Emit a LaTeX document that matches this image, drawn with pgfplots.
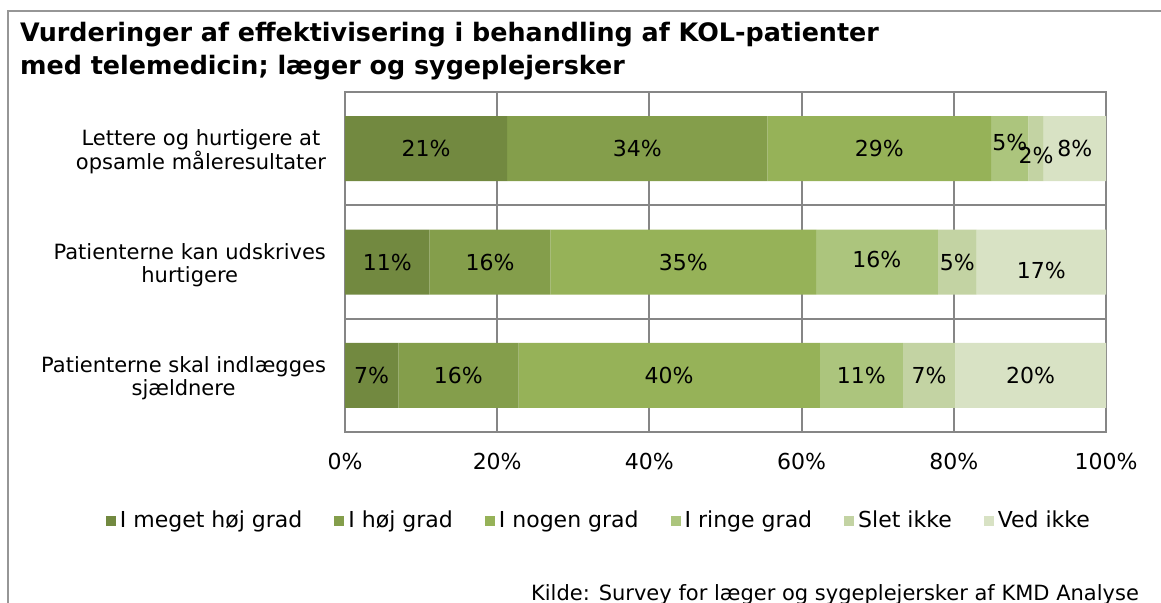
\documentclass[border=0pt]{standalone}
\usepackage{fontspec}
\setmainfont{DejaVu Sans}
\usepackage{pgfplots}
\usepackage{pgfplotstable}
\pgfplotsset{compat=1.18}

\definecolor{c1}{RGB}{114,137,64}
\definecolor{c2}{RGB}{132,158,75}
\definecolor{c3}{RGB}{150,178,88}
\definecolor{c4}{RGB}{172,197,125}
\definecolor{c5}{RGB}{195,211,163}
\definecolor{c6}{RGB}{216,226,196}
\definecolor{gridgray}{RGB}{134,134,134}
\definecolor{framegray}{RGB}{150,150,150}

% shares in percent, cat 0 = bottom bar
\pgfplotstableread{
cat a    b    c    d    e   f
0   7.0  15.8 39.6 10.9 6.9 19.8
1   11.1 15.9 34.9 16.0 5.1 17.0
2   21.3 34.2 29.4 4.9  2.0 8.2
}\data

\newcommand{\lbl}{\fontsize{11}{13}\selectfont}
\newcommand{\cat}{\fontsize{10.5}{11.6}\selectfont}

\begin{document}
\begin{tikzpicture}
\draw[framegray, line width=1pt] (4pt,-310pt) -- (4pt,-5.25pt) -- (590pt,-5.25pt);
\node[anchor=base west, font=\fontsize{12.7}{14}\selectfont\bfseries] at (6.5pt,-20.5pt)
  {Vurderinger af effektivisering i behandling af KOL-patienter};
\node[anchor=base west, font=\fontsize{12.7}{14}\selectfont\bfseries] at (6.5pt,-37pt)
  {med telemedicin; læger og sygeplejersker};

\begin{axis}[
  % colour, then label nudge (pt) for bar 0, 1, 2
  seg/.style n args={4}{fill=#1, draw=none,
    every node near coord/.append style={yshift={1pt*((\ci==0)*(#2)+(\ci==1)*(#3)+(\ci==2)*(#4))}}},
  at={(172.5pt,-216pt)}, anchor=south west,
  width=380.5pt, height=170pt, scale only axis,
  xbar stacked, bar width=32.5pt,
  xmin=0, xmax=100, ymin=-0.5, ymax=2.5,
  xtick={0,20,...,100},
  xticklabel={\pgfmathprintnumber{\tick}\%},
  /pgf/number format/assume math mode=true,
  ytick={0,1,2},
  yticklabels={{Patienterne skal indlægges\\sjældnere},
               {Patienterne kan udskrives\\hurtigere},
               {Lettere og hurtigere at\\opsamle måleresultater}},
  minor ytick={0.5,1.5},
  xmajorgrids, yminorgrids,
  major tick length=0pt, minor tick length=0pt,
  axis line style={gridgray, line width=1pt},
  grid style={gridgray, line width=1pt},
  minor grid style={gridgray, line width=1pt},
  xticklabel style={font=\lbl, yshift=-7pt},
  yticklabel style={font=\cat, align=center, xshift=-6pt, yshift=-1.5pt},
  point meta=rawx,
  visualization depends on={\coordindex \as \ci},
  nodes near coords={\pgfmathprintnumber[fixed,precision=0]{\pgfplotspointmeta}\%},
  every node near coord/.append style={font=\lbl, black, anchor=center},
  legend image code/.code={\fill[#1] (0pt,-2.5pt) rectangle (5pt,2.5pt);},
  legend style={at={(0.335,-0.262)}, anchor=center, draw=none, fill=none,
    legend columns=6, font=\lbl,
    /tikz/every even column/.append style={column sep=14pt}},
  legend cell align=left,
]
\addplot[seg={c1}{0}{0}{0}] table[x=a, y=cat] {\data};
\addplot[seg={c2}{0}{0}{0}] table[x=b, y=cat] {\data};
\addplot[seg={c3}{0}{0}{0}] table[x=c, y=cat] {\data};
\addplot[seg={c4}{0}{1.5}{3}] table[x=d, y=cat] {\data};
\addplot[seg={c5}{0}{0}{-3.5}] table[x=e, y=cat] {\data};
\addplot[seg={c6}{0}{-4}{0}] table[x=f, y=cat] {\data};
\legend{I meget høj grad, I høj grad, I nogen grad, I ringe grad, Slet ikke, Ved ikke}
\end{axis}

\node[anchor=base east, font=\cat] at (573pt,-300pt)
  {Kilde: Survey for læger og sygeplejersker af KMD Analyse};
\pgfresetboundingbox
\useasboundingbox (0pt,0pt) rectangle (580.5pt,-301pt);
\end{tikzpicture}
\end{document}
